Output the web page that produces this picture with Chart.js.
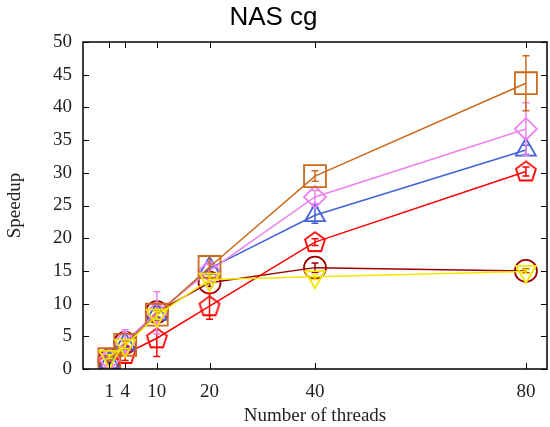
<!DOCTYPE html>
<html>
<head>
<meta charset="utf-8">
<script src="https://cdn.jsdelivr.net/npm/chart.js@4.4.0/dist/chart.umd.min.js"></script>
<style>
  html, body { margin: 0; padding: 0; background: #fff; }
  #wrap { width: 550px; height: 427px; position: relative; }
</style>
</head>
<body>
<div id="wrap"><canvas id="speedupChart"></canvas></div>
<script>
const threads = [1, 4, 10, 20, 40, 80];
const xTickValues = [1, 4, 10, 20, 40, 80];

const darkRedVals = [1.3, 4.0, 8.7, 13.2, 15.5, 15.0];
const darkRedErr  = [0.3, 0.5, 0.8, 0.6, 0.7, 0.3];
const redVals     = [1.0, 2.3, 4.7, 9.6, 19.4, 30.2];
const redErr      = [0.3, 1.0, 2.8, 2.0, 0.5, 0.7];
const blueVals    = [1.0, 3.8, 8.4, 15.4, 23.5, 33.5];
const blueErr     = [0.2, 0.4, 0.6, 0.8, 1.2, 0.7];
const violetVals  = [1.5, 4.2, 8.6, 15.0, 26.3, 36.7];
const violetErr   = [0.3, 1.8, 3.2, 1.0, 1.0, 4.0];
const orangeVals  = [1.5, 3.7, 8.3, 15.6, 29.5, 43.7];
const orangeErr   = [0.3, 0.6, 0.8, 1.7, 0.8, 4.2];
const yellowVals  = [1.9, 3.6, 8.2, 13.7, 14.1, 14.9];
const yellowErr   = [0.3, 0.5, 0.6, 0.5, 0.4, 0.3];

const serif = "'Liberation Serif', 'Times New Roman', serif";

function pentagon(color) {
    const c = document.createElement('canvas');
    c.width = 26;
    c.height = 26;
    const g = c.getContext('2d');
    g.strokeStyle = color;
    g.lineWidth = 1.8;
    g.beginPath();
    for (let i = 0; i < 5; i++) {
        const a = -Math.PI / 2 + i * 2 * Math.PI / 5;
        const px = 13 + 10.5 * Math.cos(a);
        const py = 13.5 + 10.5 * Math.sin(a);
        if (i === 0) g.moveTo(px, py); else g.lineTo(px, py);
    }
    g.closePath();
    g.stroke();
    return c;
}

function series(label, vals, err, color, style, radius, order, rotation) {
    return {
        label: label,
        data: threads.map((t, i) => ({x: t, y: vals[i]})),
        errors: err,
        borderColor: color,
        backgroundColor: 'rgba(0,0,0,0)',
        borderWidth: 1.5,
        pointStyle: style,
        pointRadius: radius,
        pointBorderWidth: 1.8,
        pointBorderColor: color,
        pointBackgroundColor: 'rgba(0,0,0,0)',
        pointRotation: rotation || 0,
        tension: 0,
        fill: false,
        order: order
    };
}

const errorBars = {
    id: 'errorBars',
    afterDatasetDraw(chart, args) {
        const ds = chart.data.datasets[args.index];
        const ys = chart.scales.y;
        const ctx = chart.ctx;
        ctx.save();
        ctx.strokeStyle = ds.borderColor;
        ctx.lineWidth = 1.5;
        args.meta.data.forEach((pt, i) => {
            const v = ds.data[i].y;
            const e = ds.errors[i];
            const top = ys.getPixelForValue(v + e);
            const bot = ys.getPixelForValue(v - e);
            ctx.beginPath();
            ctx.moveTo(pt.x, top);
            ctx.lineTo(pt.x, bot);
            ctx.moveTo(pt.x - 3.5, top);
            ctx.lineTo(pt.x + 3.5, top);
            ctx.moveTo(pt.x - 3.5, bot);
            ctx.lineTo(pt.x + 3.5, bot);
            ctx.stroke();
        });
        ctx.restore();
    }
};

const frame = {
    id: 'frame',
    afterDraw(chart) {
        const a = chart.chartArea;
        const ctx = chart.ctx;
        const xs = chart.scales.x, ys = chart.scales.y;
        ctx.save();
        ctx.strokeStyle = '#000';
        ctx.lineWidth = 1.5;
        ctx.strokeRect(a.left, a.top, a.right - a.left, a.bottom - a.top);
        ctx.lineWidth = 1;
        ctx.beginPath();
        xTickValues.forEach(v => {
            const px = Math.round(xs.getPixelForValue(v)) + 0.5;
            ctx.moveTo(px, a.bottom); ctx.lineTo(px, a.bottom - 6);
            ctx.moveTo(px, a.top); ctx.lineTo(px, a.top + 6);
        });
        ys.ticks.forEach(t => {
            const py = Math.round(ys.getPixelForValue(t.value)) + 0.5;
            ctx.moveTo(a.left, py); ctx.lineTo(a.left + 6, py);
            ctx.moveTo(a.right, py); ctx.lineTo(a.right - 6, py);
        });
        ctx.stroke();
        ctx.restore();
    }
};

const ctx = document.getElementById('speedupChart').getContext('2d');
new Chart(ctx, {
    type: 'line',
    data: {
        datasets: [
            series('dark red', darkRedVals, darkRedErr, '#990000', 'circle', 11, 5),
            series('red', redVals, redErr, '#ff0000', pentagon('#ff0000'), 12, 4),
            series('blue', blueVals, blueErr, '#4263d8', 'triangle', 11.5, 3),
            series('violet', violetVals, violetErr, '#ee82ee', 'rectRot', 11, 2),
            series('orange', orangeVals, orangeErr, '#cc6a1c', 'rect', 15.5, 1),
            series('yellow', yellowVals, yellowErr, '#f2e600', 'triangle', 11.5, 0, 180)
        ]
    },
    options: {
        responsive: true,
        maintainAspectRatio: false,
        animation: false,
        layout: { autoPadding: false, padding: { left: 0, right: 3, top: 0, bottom: 0 } },
        plugins: {
            legend: { display: false },
            tooltip: { enabled: false },
            title: {
                display: true,
                text: 'NAS cg',
                color: '#000',
                font: { family: "'Liberation Sans', Arial, sans-serif", size: 26, weight: 'normal' },
                padding: { top: 2, bottom: 8.8 }
            }
        },
        scales: {
            x: {
                type: 'linear',
                min: -4,
                max: 84,
                afterBuildTicks: scale => {
                    scale.ticks = xTickValues.map(v => ({ value: v }));
                },
                afterFit: scale => {
                    scale.height = 58;
                    scale.paddingLeft = 0;
                    scale.paddingRight = 0;
                },
                grid: { display: false, drawTicks: false },
                border: { display: false },
                ticks: {
                    color: '#222',
                    font: { family: serif, size: 19 },
                    padding: 12,
                    maxRotation: 0,
                    autoSkip: false
                },
                title: {
                    display: true,
                    text: 'Number of threads',
                    color: '#222',
                    font: { family: serif, size: 19 },
                    padding: { top: 6, bottom: 0 }
                }
            },
            y: {
                min: 0,
                max: 50,
                afterFit: scale => {
                    scale.width = 83;
                    scale.paddingTop = 0;
                    scale.paddingBottom = 0;
                },
                grid: { display: false, drawTicks: false },
                border: { display: false },
                ticks: {
                    stepSize: 5,
                    color: '#222',
                    font: { family: serif, size: 19 },
                    padding: 11
                },
                title: {
                    display: true,
                    text: 'Speedup',
                    color: '#222',
                    font: { family: serif, size: 19 },
                    padding: { top: 4, bottom: 0 }
                }
            }
        }
    },
    plugins: [errorBars, frame]
});
</script>
</body>
</html>
